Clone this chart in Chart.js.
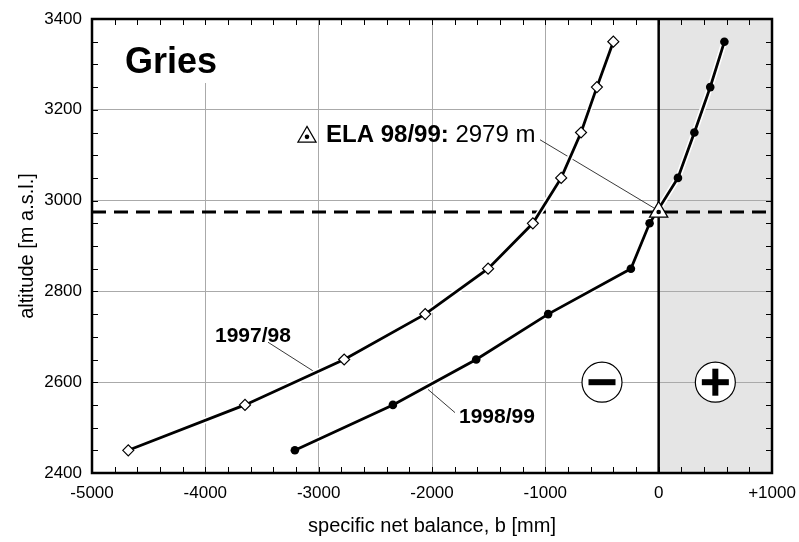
<!DOCTYPE html>
<html>
<head>
<meta charset="utf-8">
<script src="https://cdn.jsdelivr.net/npm/chart.js@4.4.0/dist/chart.umd.min.js"></script>
<style>
  html, body { margin: 0; padding: 0; background: #fff; }
</style>
</head>
<body>
<canvas id="myChart" width="799" height="542"></canvas>
<script>
'use strict';
//data
let altitudes = [2450, 2550, 2650, 2750, 2850, 2950, 3050, 3150, 3250, 3350];
let balance9798 = [-4680, -3650, -2775, -2060, -1505, -1110, -860, -685, -545, -400];
let balance9899 = [-3210, -2345, -1610, -975, -245, -80, 170, 315, 455, 580];
let elaAltitude = 2975;
let elaBalance = 0;
let xTicks = [-5000, -4000, -3000, -2000, -1000, 0, 1000];
let yTicks = [2400, 2600, 2800, 3000, 3200, 3400];

const FONT = '"Liberation Sans", Arial, Helvetica, sans-serif';

function toPoints(xs, ys){
  let pts = [];
  for(let i = 0; i < xs.length; i++){
    pts.push({x: xs[i], y: ys[i]});
  }
  return pts;
}

//extra drawing: shaded side, dashed ELA line, labels, frame, minor ticks
const griesPlugin = {
  id: 'gries',
  beforeDraw(chart){
    const {ctx, chartArea: a, scales: {x}} = chart;
    ctx.save();
    ctx.fillStyle = '#fff';
    ctx.fillRect(0, 0, chart.width, chart.height);
    let x0 = x.getPixelForValue(0);
    ctx.fillStyle = '#e5e5e5';
    ctx.fillRect(x0, a.top, a.right - x0, a.bottom - a.top);
    ctx.restore();
  },
  beforeDatasetsDraw(chart){
    const {ctx, chartArea: a, scales: {x, y}} = chart;
    ctx.save();
    // white box behind the title
    ctx.fillStyle = '#fff';
    ctx.fillRect(x.getPixelForValue(-4800), a.top + 1, 115, 63);

    // zero line
    let x0 = x.getPixelForValue(0);
    ctx.strokeStyle = '#000';
    ctx.lineWidth = 2.5;
    ctx.beginPath();
    ctx.moveTo(x0, a.top);
    ctx.lineTo(x0, a.bottom);
    ctx.stroke();

    // dashed ELA line
    let ye = y.getPixelForValue(elaAltitude);
    ctx.lineWidth = 3;
    ctx.setLineDash([14, 8]);
    ctx.beginPath();
    ctx.moveTo(a.left, ye);
    ctx.lineTo(a.right, ye);
    ctx.stroke();
    ctx.setLineDash([]);

    // leader lines
    ctx.lineWidth = 0.9;
    ctx.strokeStyle = '#222';
    let leaders = [
      [-1047, 3134, -30, 2982],
      [-3447, 2688, -3032, 2622],
      [-2035, 2584, -1797, 2533]
    ];
    leaders.forEach(l => {
      ctx.beginPath();
      ctx.moveTo(x.getPixelForValue(l[0]), y.getPixelForValue(l[1]));
      ctx.lineTo(x.getPixelForValue(l[2]), y.getPixelForValue(l[3]));
      ctx.stroke();
    });

    // minus / plus circles
    [[-500, '-'], [500, '+']].forEach(c => {
      let cx = x.getPixelForValue(c[0]);
      let cy = y.getPixelForValue(2600);
      ctx.beginPath();
      ctx.arc(cx, cy, 20, 0, Math.PI * 2);
      ctx.fillStyle = '#fff';
      ctx.fill();
      ctx.lineWidth = 1.2;
      ctx.strokeStyle = '#000';
      ctx.stroke();
      ctx.fillStyle = '#000';
      ctx.fillRect(cx - 13.5, cy - 3, 27, 6);
      if(c[1] === '+'){
        ctx.fillRect(cx - 3, cy - 13.5, 6, 27);
      }
    });
    ctx.restore();
  },
  afterDraw(chart){
    const {ctx, chartArea: a, scales: {x, y}} = chart;
    ctx.save();
    // minor ticks
    ctx.strokeStyle = '#000';
    ctx.lineWidth = 1;
    ctx.beginPath();
    for(let v = x.min; v <= x.max; v += 200){
      let px = Math.round(x.getPixelForValue(v)) + 0.5;
      ctx.moveTo(px, a.top); ctx.lineTo(px, a.top + 6);
      ctx.moveTo(px, a.bottom); ctx.lineTo(px, a.bottom - 6);
    }
    for(let v = y.min; v <= y.max; v += 50){
      let py = Math.round(y.getPixelForValue(v)) + 0.5;
      ctx.moveTo(a.left, py); ctx.lineTo(a.left + 6, py);
      ctx.moveTo(a.right, py); ctx.lineTo(a.right - 6, py);
    }
    ctx.stroke();

    // frame
    ctx.lineWidth = 2.5;
    ctx.strokeRect(a.left, a.top, a.right - a.left, a.bottom - a.top);

    // texts
    ctx.fillStyle = '#000';
    ctx.textBaseline = 'alphabetic';
    ctx.textAlign = 'left';
    ctx.font = 'bold 36px ' + FONT;
    ctx.fillText('Gries', x.getPixelForValue(-4709), y.getPixelForValue(3281));

    ctx.font = 'bold 21px ' + FONT;
    ctx.fillText('1997/98', x.getPixelForValue(-3915), y.getPixelForValue(2688));
    ctx.fillText('1998/99', x.getPixelForValue(-1762), y.getPixelForValue(2510));

    // ELA legend: small triangle + text
    let tx = x.getPixelForValue(-3103);
    let ty = y.getPixelForValue(3147) + 3;
    ctx.beginPath();
    ctx.moveTo(tx, ty - 10.5);
    ctx.lineTo(tx + 9.1, ty + 5.25);
    ctx.lineTo(tx - 9.1, ty + 5.25);
    ctx.closePath();
    ctx.fillStyle = '#fff';
    ctx.fill();
    ctx.lineWidth = 1.2;
    ctx.stroke();
    ctx.beginPath();
    ctx.arc(tx, ty, 2.3, 0, Math.PI * 2);
    ctx.fillStyle = '#000';
    ctx.fill();

    let lx = x.getPixelForValue(-2935);
    let ly = y.getPixelForValue(3129);
    ctx.font = 'bold 24px ' + FONT;
    let boldText = 'ELA 98/99:';
    ctx.fillText(boldText, lx, ly);
    let w = ctx.measureText(boldText + ' ').width;
    ctx.font = '24px ' + FONT;
    ctx.fillText('2979 m', lx + w, ly);
    ctx.restore();
  }
};

const ctx = document.getElementById('myChart');

new Chart(ctx, {
  type: 'scatter',
  data: {
    datasets: [
      {
        label: 'halo 1997/98',
        data: toPoints(balance9798, altitudes),
        showLine: true,
        borderColor: '#fff',
        borderWidth: 6,
        pointRadius: 0,
        order: 5
      },
      {
        label: 'halo 1998/99',
        data: toPoints(balance9899, altitudes),
        showLine: true,
        borderColor: '#fff',
        borderWidth: 6,
        pointRadius: 0,
        order: 5
      },
      {
        label: '1997/98',
        data: toPoints(balance9798, altitudes),
        showLine: true,
        borderColor: '#000',
        borderWidth: 2.8,
        pointStyle: 'rectRot',
        pointRadius: 5.5,
        pointBackgroundColor: '#fff',
        pointBorderColor: '#000',
        pointBorderWidth: 1.2,
        order: 3
      },
      {
        label: '1998/99',
        data: toPoints(balance9899, altitudes),
        showLine: true,
        borderColor: '#000',
        borderWidth: 2.8,
        pointStyle: 'circle',
        pointRadius: 4.3,
        pointBackgroundColor: '#000',
        pointBorderColor: '#000',
        pointBorderWidth: 0,
        order: 3
      },
      {
        label: 'ELA',
        data: [{x: elaBalance, y: elaAltitude}],
        pointStyle: 'triangle',
        pointRadius: 10.5,
        pointBackgroundColor: '#fff',
        pointBorderColor: '#000',
        pointBorderWidth: 1.3,
        order: 1
      },
      {
        label: 'ELA dot',
        data: [{x: elaBalance, y: elaAltitude}],
        pointStyle: 'circle',
        pointRadius: 2.3,
        pointBackgroundColor: '#000',
        pointBorderWidth: 0,
        order: 0
      }
    ]
  },
  options: {
    responsive: false,
    animation: false,
    events: [],
    layout: {
      padding: {top: 19, right: 27, left: 0, bottom: 0}
    },
    plugins: {
      legend: {display: false},
      tooltip: {enabled: false}
    },
    scales: {
      x: {
        type: 'linear',
        min: -5000,
        max: 1000,
        afterBuildTicks: s => { s.ticks = xTicks.map(v => ({value: v})); },
        afterFit: s => { s.height = 69; s.paddingLeft = 0; s.paddingRight = 0; },
        border: {display: false},
        grid: {color: '#aaaaaa', lineWidth: 1, drawTicks: false},
        ticks: {
          padding: 10,
          color: '#000',
          font: {family: FONT, size: 17},
          maxRotation: 0,
          callback: v => (v > 0 ? '+' + v : String(v))
        },
        title: {
          display: true,
          text: 'specific net balance, b [mm]',
          color: '#000',
          font: {family: FONT, size: 20},
          padding: {top: 0, bottom: 4}
        }
      },
      y: {
        type: 'linear',
        min: 2400,
        max: 3400,
        afterBuildTicks: s => { s.ticks = yTicks.map(v => ({value: v})); },
        afterFit: s => { s.width = 92; s.paddingTop = 0; s.paddingBottom = 0; },
        border: {display: false},
        grid: {color: '#aaaaaa', lineWidth: 1, drawTicks: false},
        ticks: {
          padding: 10,
          color: '#000',
          font: {family: FONT, size: 17},
          callback: v => String(v)
        },
        title: {
          display: true,
          text: 'altitude [m a.s.l.]',
          color: '#000',
          font: {family: FONT, size: 20},
          padding: {top: 15, bottom: 15}
        }
      }
    }
  },
  plugins: [griesPlugin]
});
</script>
</body>
</html>
